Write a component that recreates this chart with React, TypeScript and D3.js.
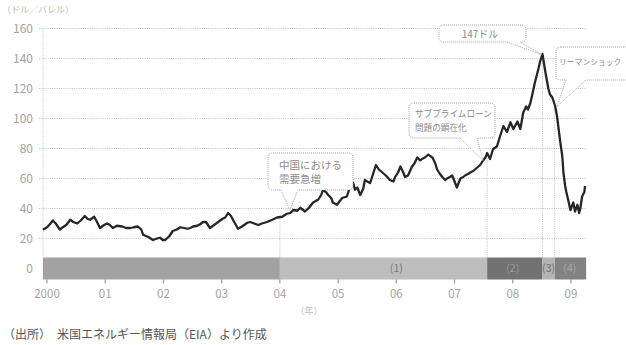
import React from "react";
import * as d3 from "d3";

// ---- data (decimal year, US$/barrel) ----
const dates = [
  1999.93, 2000.0, 2000.05, 2000.1, 2000.15, 2000.22, 2000.27, 2000.33, 2000.4, 2000.45, 2000.52, 2000.58,
  2000.65, 2000.7, 2000.74, 2000.81, 2000.86, 2000.91, 2000.98, 2001.03, 2001.08, 2001.13, 2001.2, 2001.29,
  2001.36, 2001.43, 2001.49, 2001.56, 2001.62, 2001.65, 2001.74, 2001.82, 2001.89, 2001.94, 2001.99, 2002.03,
  2002.1, 2002.16, 2002.23, 2002.29, 2002.35, 2002.41, 2002.46, 2002.51, 2002.58, 2002.63, 2002.68, 2002.73,
  2002.8, 2002.87, 2002.94, 2003.01, 2003.06, 2003.11, 2003.16, 2003.23, 2003.28, 2003.35, 2003.44, 2003.49,
  2003.56, 2003.63, 2003.69, 2003.78, 2003.87, 2003.95, 2004.04, 2004.12, 2004.18, 2004.23, 2004.3, 2004.35,
  2004.43, 2004.5, 2004.57, 2004.66, 2004.71, 2004.74, 2004.79, 2004.83, 2004.88, 2004.91, 2004.98, 2005.03,
  2005.07, 2005.15, 2005.21, 2005.26, 2005.29, 2005.33, 2005.38, 2005.43, 2005.46, 2005.5, 2005.55, 2005.6,
  2005.65, 2005.7, 2005.76, 2005.82, 2005.89, 2005.95, 2005.98, 2006.03, 2006.07, 2006.12, 2006.15, 2006.2,
  2006.27, 2006.31, 2006.36, 2006.41, 2006.44, 2006.49, 2006.55, 2006.58, 2006.62, 2006.67, 2006.7, 2006.75,
  2006.79, 2006.84, 2006.87, 2006.92, 2006.96, 2007.01, 2007.04, 2007.1, 2007.15, 2007.18, 2007.23, 2007.27,
  2007.32, 2007.35, 2007.41, 2007.44, 2007.49, 2007.53, 2007.56, 2007.61, 2007.66, 2007.73, 2007.78, 2007.84,
  2007.87, 2007.9, 2007.96, 2008.01, 2008.08, 2008.13, 2008.18, 2008.23, 2008.26, 2008.3, 2008.33, 2008.38,
  2008.44, 2008.47, 2008.51, 2008.56, 2008.61, 2008.64, 2008.68, 2008.73, 2008.76, 2008.81, 2008.85, 2008.87,
  2008.9, 2008.92, 2008.95, 2008.99, 2009.02, 2009.04, 2009.07, 2009.11, 2009.14, 2009.16, 2009.19, 2009.23,
  2009.24,
];
const prices = [
  25.8, 27.5, 29.5, 32, 30, 26, 27.5, 29, 32.5, 31, 30, 32,
  35, 33, 32.5, 34.5, 31, 27, 29, 30, 29, 27, 28.5, 28,
  27, 27, 27.5, 28, 26, 22.5, 21, 19, 20, 20.5, 19, 19,
  21.5, 25, 26, 27.5, 27, 26.5, 27, 28, 28.5, 29.5, 31, 31,
  27, 29, 31, 33, 34, 37, 35, 30, 26.5, 28, 30.5, 31,
  30, 29, 30, 31, 32.5, 34, 34.5, 36.5, 37, 39, 38.5, 40.5,
  38, 40.5, 44, 46, 49, 52.5, 51, 49, 47, 44, 42.5, 45,
  47, 48, 55, 57, 52.5, 54, 49, 53, 59, 58, 57, 63,
  69, 66, 64, 62, 59, 58, 61, 64, 68, 64, 61, 62,
  68, 70, 74, 72, 73, 74, 76, 75, 74, 70, 66, 63,
  61, 59, 60, 61, 62, 57, 54, 60, 61, 62, 63, 64,
  65, 66, 68, 69, 72, 74, 77, 73, 79.5, 81.5, 88, 95,
  93, 91, 97.5, 93, 98, 93, 104, 108, 106, 110, 115, 124,
  133, 138, 143, 131, 120, 116, 114, 108, 101.5, 86, 75, 64,
  55, 51, 46, 39, 42, 44, 38, 42.5, 37, 40, 48, 51,
  55,
];

const yTicks = [0, 20, 40, 60, 80, 100, 120, 140, 160];
const xTickYears = [2000, 2001, 2002, 2003, 2004, 2005, 2006, 2007, 2008, 2009];
const xTickLabels = ["2000", "01", "02", "03", "04", "05", "06", "07", "08", "09"];

const bandStarts = [1999.93, 2004.0, 2007.56, 2008.51, 2008.72];
const bandEnds = [2004.0, 2007.56, 2008.51, 2008.72, 2009.26];
const bandColors = ["#a2a2a2", "#bdbdbd", "#727272", "#b3b3b3", "#828282"];
const bandLabels = ["", "(1)", "(2)", "(3)", "(4)"];
const bandLabelAt = [0, 2006.0, 2008.0, 2008.615, 2008.98];
const bandLabelColors = ["#777", "#7a7a7a", "#9c9c9c", "#6f6f6f", "#a8a8a8"];

const eventDates = [2004.0, 2007.56, 2008.51, 2008.72];

const FONT = "'Noto Sans CJK JP', 'Noto Sans', sans-serif";

const W = 626;
const H = 345;

const x = d3.scaleLinear().domain([2000, 2009]).range([47, 571]);
const y = d3.scaleLinear().domain([0, 160]).range([268.5, 28.5]);

const plotLeft = 43;
const plotRight = 586;

function priceAt(t: number) {
  const i = d3.bisectLeft(dates, t);
  if (i <= 0) return prices[0];
  if (i >= dates.length) return prices[prices.length - 1];
  const t0 = dates[i - 1], t1 = dates[i];
  const k = (t - t0) / (t1 - t0);
  return prices[i - 1] + k * (prices[i] - prices[i - 1]);
}

type Callout = {
  lines: string[];
  box: [number, number, number, number];
  base: [number, number];
  tip: [number, number];
  fontSize: number;
  textX: number;
  lineYs: number[];
  anchor?: string;
};

const callouts: Callout[] = [
  {
    lines: ["中国における", "需要急増"],
    box: [268, 153, 85, 37],
    base: [281, 298],
    tip: [2004.17, 39],
    fontSize: 10.5,
    textX: 279,
    lineYs: [165, 179],
  },
  {
    lines: ["サブプライムローン", "問題の顕在化"],
    box: [409, 103, 86, 35],
    base: [460, 477],
    tip: [2007.49, 72],
    fontSize: 8.6,
    textX: 415,
    lineYs: [114, 128],
  },
  {
    lines: ["147ドル"],
    box: [439, 25, 87, 17],
    base: [507, 520],
    tip: [2008.5, 142.5],
    fontSize: 10,
    textX: 480,
    lineYs: [34],
    anchor: "middle",
  },
  {
    lines: ["リーマンショック"],
    box: [556, 47, 90, 33],
    base: [566, 586],
    tip: [2008.76, 108],
    fontSize: 7.8,
    textX: 559,
    lineYs: [62],
  },
];

function calloutPath(c: Callout) {
  const [bx, by, bw, bh] = c.box;
  const r = 5;
  const tx = x(c.tip[0]);
  const ty = y(c.tip[1]);
  const [b1, b2] = c.base;
  const bottom = by + bh;
  return [
    `M${bx + r},${by}`,
    `H${bx + bw - r}`,
    `Q${bx + bw},${by} ${bx + bw},${by + r}`,
    `V${bottom - r}`,
    `Q${bx + bw},${bottom} ${bx + bw - r},${bottom}`,
    `H${b2}`,
    `L${tx},${ty}`,
    `L${b1},${bottom}`,
    `H${bx + r}`,
    `Q${bx},${bottom} ${bx},${bottom - r}`,
    `V${by + r}`,
    `Q${bx},${by} ${bx + r},${by}`,
    "Z",
  ].join(" ");
}

export default function App() {
  const line = d3
    .line<number>()
    .x((_, i) => x(dates[i]))
    .y((d) => y(d))
    .curve(d3.curveLinear);
  const bandTop = y(0) - 11;
  const bandBottom = y(0) + 11;

  return (
    <svg
      width={W}
      height={H}
      viewBox={`0 0 ${W} ${H}`}
      style={{ position: "absolute", left: 0, top: 0, background: "#fff", fontFamily: FONT }}
    >
      <rect x={0} y={0} width={W} height={H} fill="#fff" />

      {/* y axis title */}
      <text x={2} y={13} fontSize={9} fill="#bdbdbd">（ドル／バレル）</text>

      {/* gridlines */}
      {yTicks.filter((t) => t > 0).map((t) => (
        <line key={t} x1={plotLeft - 4} x2={plotRight} y1={y(t)} y2={y(t)} stroke="#b5b5b5" strokeWidth={0.8} strokeDasharray="1,1.2" />
      ))}
      <line x1={plotLeft} x2={plotLeft} y1={y(160)} y2={bandTop} stroke="#b5b5b5" strokeWidth={0.8} strokeDasharray="1,1.2" />

      {/* y tick labels */}
      {yTicks.map((t) => (
        <text key={t} x={33} y={y(t)} dy="0.36em" fontSize={12} fill="#a3a3a3" textAnchor="end">{t}</text>
      ))}

      {/* event verticals */}
      {eventDates.map((d, i) => (
        <line key={i} x1={x(d)} x2={x(d)} y1={bandTop} y2={y(priceAt(d))} stroke="#b0b0b0" strokeWidth={0.8} strokeDasharray="1,1.2" />
      ))}

      {/* period band */}
      {bandStarts.map((s, i) => (
        <rect key={i} x={x(s)} y={bandTop} width={x(bandEnds[i]) - x(s)} height={bandBottom - bandTop} fill={bandColors[i]} />
      ))}
      {bandLabels.map((l, i) =>
        l ? (
          <text key={i} x={x(bandLabelAt[i])} y={y(0)} dy="0.36em" fontSize={10.5} fill={bandLabelColors[i]} textAnchor="middle">{l}</text>
        ) : null
      )}

      {/* x ticks */}
      {xTickYears.map((t, i) => (
        <g key={t}>
          <line x1={x(t)} x2={x(t)} y1={bandBottom} y2={bandBottom + 4} stroke="#888" strokeWidth={1} />
          <text x={x(t)} y={294} dy="0.36em" fontSize={11.5} fill="#a3a3a3" textAnchor="middle">{xTickLabels[i]}</text>
        </g>
      ))}
      <text x={309} y={311} dy="0.36em" fontSize={9} fill="#bdbdbd" textAnchor="middle">（年）</text>

      {/* price line */}
      <path d={line(prices) || ""} fill="none" stroke="#262626" strokeWidth={2.3} strokeLinejoin="round" />

      {/* callouts */}
      {callouts.map((c, i) => (
        <g key={i}>
          <path d={calloutPath(c)} fill="#fff" stroke="#9a9a9a" strokeWidth={0.9} strokeDasharray="1,1" />
          {c.lines.map((s, j) => (
            <text key={j} x={c.textX} y={c.lineYs[j]} dy="0.36em" fontSize={c.fontSize} fill="#8a8a8a" textAnchor={c.anchor || "start"}>{s}</text>
          ))}
        </g>
      ))}

      {/* source */}
      <text x={3} y={335} dy="0.36em" fontSize={12} fill="#555">（出所）　米国エネルギー情報局（EIA）より作成</text>
    </svg>
  );
}
